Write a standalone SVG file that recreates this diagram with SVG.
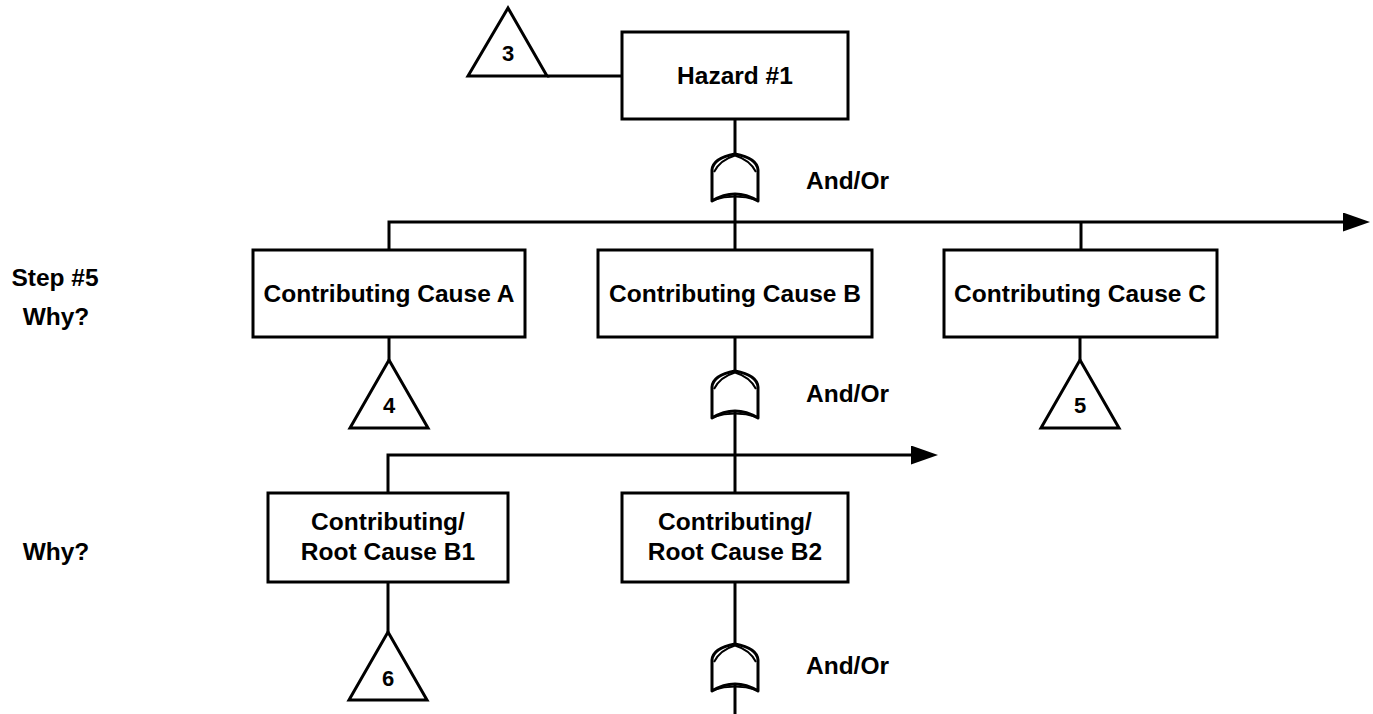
<svg xmlns="http://www.w3.org/2000/svg" width="1373" height="714" viewBox="0 0 1373 714">
  <style>
    .box { fill: #fff; stroke: #000; stroke-width: 3; }
    .tri { fill: #fff; stroke: #000; stroke-width: 3; stroke-linejoin: miter; }
    .wire { fill: none; stroke: #000; stroke-width: 3; }
    .gate { fill: #fff; stroke: #000; stroke-width: 3; stroke-linejoin: round; }
    .gate-inner { fill: none; stroke: #000; stroke-width: 2; }
    text { font-family: "Liberation Sans", Arial, sans-serif; font-weight: bold; fill: #000; }
    .lbl { font-size: 24.5px; text-anchor: middle; }
    .side { font-size: 24.5px; text-anchor: middle; }
    .gl { font-size: 24.5px; }
    .num { font-size: 22px; text-anchor: middle; }
  </style>
  <defs>
    <marker id="arrow" markerUnits="userSpaceOnUse" markerWidth="28" markerHeight="20" refX="2" refY="9.5" orient="auto">
      <path d="M0,0 L27,9.5 L0,19 Z" fill="#000"/>
    </marker>
    <!-- and/or gate, apex at origin -->
    <g id="andor">
      <path class="gate" d="M-23,47 L-23,16 Q-22,4 0,0 Q22,4 23,16 L23,47 Q0,33 -23,47 Z"/>
      <path class="gate-inner" d="M-21,18 Q-15,6 0,1.5 Q15,6 21,18"/>
      <path class="gate-inner" d="M-22,46 Q0,39 22,46"/>
    </g>
  </defs>

  <!-- connectors -->
  <g id="connectors">
    <line class="wire" x1="547" y1="76" x2="622" y2="76"/>
    <line class="wire" x1="735" y1="119" x2="735" y2="156"/>
    <line class="wire" x1="735" y1="190" x2="735" y2="250"/>
    <path class="wire" d="M389,250 V222 H1345" marker-end="url(#arrow)"/>
    <line class="wire" x1="1081" y1="222" x2="1081" y2="250"/>
    <line class="wire" x1="389" y1="337" x2="389" y2="360"/>
    <line class="wire" x1="1080" y1="337" x2="1080" y2="360"/>
    <line class="wire" x1="735" y1="337" x2="735" y2="373"/>
    <line class="wire" x1="735" y1="408" x2="735" y2="493"/>
    <path class="wire" d="M388,493 V455 H913" marker-end="url(#arrow)"/>
    <line class="wire" x1="388" y1="582" x2="388" y2="632"/>
    <line class="wire" x1="735" y1="582" x2="735" y2="645"/>
    <line class="wire" x1="735" y1="680" x2="735" y2="714"/>
  </g>

  <!-- gates -->
  <g id="gate-hazard"><use href="#andor" x="735" y="154"/></g>
  <g id="gate-cause-b"><use href="#andor" x="735" y="371"/></g>
  <g id="gate-root-b2"><use href="#andor" x="735" y="644"/></g>

  <!-- nodes -->
  <g id="transfer-3">
    <polygon class="tri" points="508,8 547,76 468,76"/>
    <text class="num" x="508" y="61">3</text>
  </g>
  <g id="hazard-1">
    <rect class="box" x="622" y="32" width="226" height="87"/>
    <text class="lbl" x="735" y="84">Hazard #1</text>
  </g>
  <g id="cause-a">
    <rect class="box" x="253" y="250" width="272" height="87"/>
    <text class="lbl" x="389" y="302">Contributing Cause A</text>
  </g>
  <g id="cause-b">
    <rect class="box" x="598" y="250" width="274" height="87"/>
    <text class="lbl" x="735" y="302">Contributing Cause B</text>
  </g>
  <g id="cause-c">
    <rect class="box" x="944" y="250" width="273" height="87"/>
    <text class="lbl" x="1080" y="302">Contributing Cause C</text>
  </g>
  <g id="transfer-4">
    <polygon class="tri" points="389,360 428,428 350,428"/>
    <text class="num" x="389" y="413">4</text>
  </g>
  <g id="transfer-5">
    <polygon class="tri" points="1080,360 1119,428 1041,428"/>
    <text class="num" x="1080" y="413">5</text>
  </g>
  <g id="root-b1">
    <rect class="box" x="268" y="493" width="240" height="89"/>
    <text class="lbl" x="388" y="530">Contributing/</text>
    <text class="lbl" x="388" y="560">Root Cause B1</text>
  </g>
  <g id="root-b2">
    <rect class="box" x="622" y="493" width="226" height="89"/>
    <text class="lbl" x="735" y="530">Contributing/</text>
    <text class="lbl" x="735" y="560">Root Cause B2</text>
  </g>
  <g id="transfer-6">
    <polygon class="tri" points="388,632 427,700 349,700"/>
    <text class="num" x="388" y="686">6</text>
  </g>

  <!-- gate labels and row captions -->
  <g id="labels">
    <text class="gl" x="806" y="189">And/Or</text>
    <text class="gl" x="806" y="402">And/Or</text>
    <text class="gl" x="806" y="674">And/Or</text>
    <text class="side" x="55" y="286">Step #5</text>
    <text class="side" x="56" y="325">Why?</text>
    <text class="side" x="56" y="560">Why?</text>
  </g>
</svg>
